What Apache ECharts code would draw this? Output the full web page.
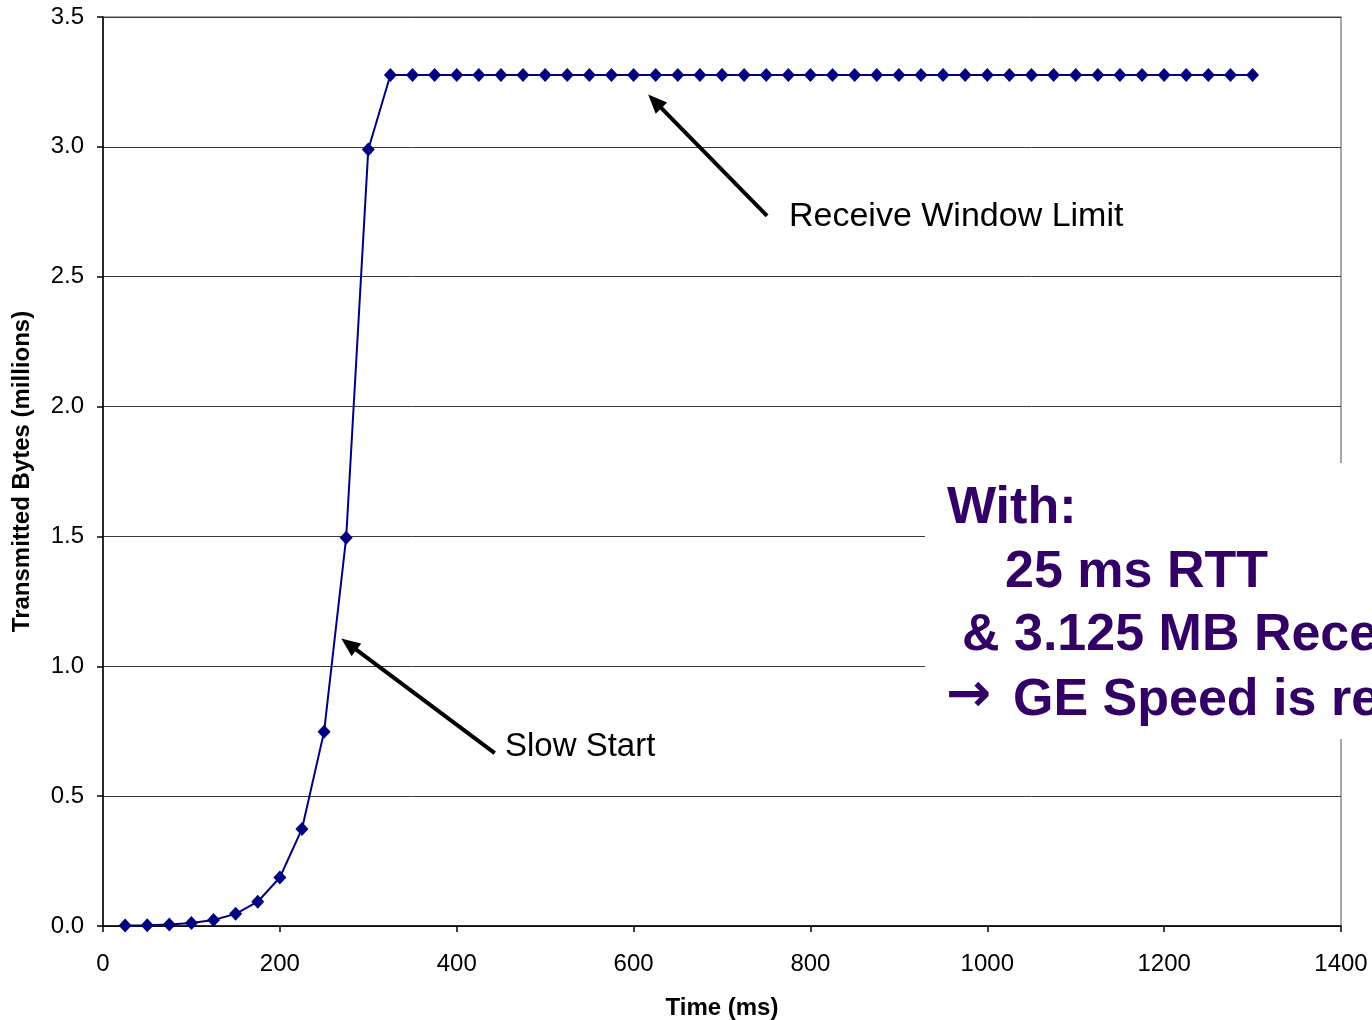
<!DOCTYPE html>
<html>
<head>
<meta charset="utf-8">
<script src="https://cdn.jsdelivr.net/npm/echarts@6/dist/echarts.min.js"></script>
<style>
html,body{margin:0;padding:0;background:#fff;}
#chart{width:1372px;height:1020px;}
</style>
</head>
<body>
<div id="chart"></div>
<script>
// Time (ms)
var timeMs = [25,50,75,100,125,150,175,200,225,250,275,300,325,350,375,400,425,450,475,500,
  525,550,575,600,625,650,675,700,725,750,775,800,825,850,875,900,925,950,975,1000,
  1025,1050,1075,1100,1125,1150,1175,1200,1225,1250,1275,1300];
// Transmitted bytes (millions)
var bytesM = [0.00146,0.00292,0.00584,0.01168,0.02336,0.04672,0.09344,0.18688,0.37376,0.74752,1.49504,2.99008,
  3.2768,3.2768,3.2768,3.2768,3.2768,3.2768,3.2768,3.2768,
  3.2768,3.2768,3.2768,3.2768,3.2768,3.2768,3.2768,3.2768,3.2768,3.2768,
  3.2768,3.2768,3.2768,3.2768,3.2768,3.2768,3.2768,3.2768,3.2768,3.2768,
  3.2768,3.2768,3.2768,3.2768,3.2768,3.2768,3.2768,3.2768,3.2768,3.2768,
  3.2768,3.2768];
var xTitle = 'Time (ms)';
var yTitle = 'Transmitted Bytes (millions)';
var annoReceive = {text:'Receive Window Limit', from:[751,2.734], to:[624,3.175]};
var annoSlow = {text:'Slow Start', from:[443,0.666], to:[278,1.085]};
var boxLines = ['With:', '25 ms RTT', '& 3.125 MB Receive Window', '\u2192', 'GE Speed is reached'];

var points = timeMs.map(function(t,i){return [t, bytesM[i]];});
var chart = echarts.init(document.getElementById('chart'));
var F = '"Liberation Sans", Arial, sans-serif';
var purple = '#330066';

chart.setOption({
  animation:false,
  backgroundColor:'#fff',
  grid:{left:103,right:31,top:17,bottom:94,containLabel:false,outerBoundsMode:'none',
    show:true,borderColor:'#8c8c8c',borderWidth:1.5,backgroundColor:'transparent'},
  xAxis:{type:'value',min:0,max:1400,interval:200,
    name:xTitle,nameLocation:'middle',nameGap:70,
    nameTextStyle:{fontFamily:F,fontSize:24,fontWeight:'bold',color:'#000'},
    axisLine:{show:true,lineStyle:{color:'#000',width:1.5}},
    axisTick:{show:true,length:6,lineStyle:{color:'#000',width:1.5}},
    axisLabel:{fontFamily:F,fontSize:24,color:'#000',margin:26,formatter:function(v){return String(v);}},
    splitLine:{show:false}},
  yAxis:{type:'value',min:0,max:3.5,interval:0.5,
    name:yTitle,nameLocation:'middle',nameGap:69,nameRotate:90,
    nameTextStyle:{fontFamily:F,fontSize:24,fontWeight:'bold',color:'#000'},
    axisLine:{show:true,lineStyle:{color:'#000',width:1.5}},
    axisTick:{show:true,length:6,lineStyle:{color:'#000',width:1.5}},
    axisLabel:{fontFamily:F,fontSize:24,color:'#000',margin:19,formatter:function(v){return v.toFixed(1);}},
    splitLine:{show:true,lineStyle:{color:'#3a3a3a',width:1}}},
  series:[{
    type:'line',data:points,
    lineStyle:{color:'#000080',width:2},
    itemStyle:{color:'#000080'},
    symbol:'diamond',symbolSize:[13,14],showSymbol:true,
    markLine:{silent:true,symbol:['none','triangle'],symbolSize:[16,19],
      label:{show:false},
      lineStyle:{color:'#000',width:4,type:'solid'},
      data:[
        [{coord:annoReceive.from},{coord:annoReceive.to}],
        [{coord:annoSlow.from},{coord:annoSlow.to}]
      ]}
  }],
  graphic:[
    {type:'text',left:789,top:200,z:10,style:{text:annoReceive.text,fontFamily:F,fontSize:34,fill:'#000'}},
    {type:'text',left:505,top:730,z:10,style:{text:annoSlow.text,fontFamily:F,fontSize:33,fill:'#000'}},
    {type:'rect',shape:{x:925,y:463,width:460,height:276},style:{fill:'#fff'},z:20},
    {type:'text',x:947,y:483,z:30,style:{text:boxLines[0],fontFamily:F,fontSize:52,fontWeight:'bold',fill:purple}},
    {type:'text',x:1005,y:547,z:30,style:{text:boxLines[1],fontFamily:F,fontSize:52,fontWeight:'bold',fill:purple}},
    {type:'text',x:962,y:610,z:30,style:{text:boxLines[2],fontFamily:F,fontSize:52,fontWeight:'bold',fill:purple}},
    {type:'text',x:946,y:670,z:30,style:{text:boxLines[3],fontFamily:'"DejaVu Sans", sans-serif',fontSize:54,fontWeight:'bold',fill:purple}},
    {type:'text',x:1013,y:675,z:30,style:{text:boxLines[4],fontFamily:F,fontSize:52,fontWeight:'bold',fill:purple}}
  ]
});
</script>
</body>
</html>
